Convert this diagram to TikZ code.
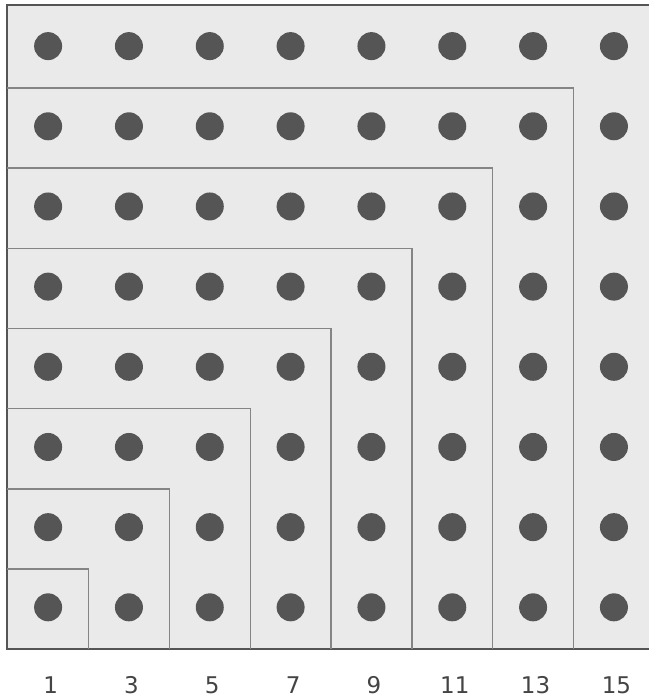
\documentclass[tikz,border=0pt]{standalone}
\usepackage{fontspec}
\setsansfont{DejaVu Sans}
\definecolor{boxfill}{HTML}{EAEAEA}
\definecolor{framegray}{HTML}{555555}
\definecolor{linegray}{HTML}{858585}
\definecolor{dotgray}{HTML}{555555}
\definecolor{labelgray}{HTML}{444444}
\tikzset{
  frame/.style={draw=framegray, fill=boxfill, line width=2.2pt},
  gnomon/.style={draw=linegray, line width=1.4pt},
  dot/.style={circle, fill=dotgray, inner sep=0pt, minimum size=28pt},
  lab/.style={font=\sffamily\fontsize{23}{23}\selectfont, text=labelgray, inner sep=0pt}
}
\begin{document}
\begin{tikzpicture}[x=1pt,y=-1pt]
\useasboundingbox (0,0) rectangle (648,700);
\fill[white] (0,0) rectangle (648,700);
\def\cx{80.83}
\def\cy{80.17}
\def\xo{7.2}
\def\yb{649.2}
\draw[frame] (\xo,\yb) rectangle (\xo+8*\cx+2,5.2);
\foreach \k in {1,...,7}{
  \draw[gnomon] (\xo,\yb-\k*\cy) -- (\xo+\k*\cx+0.6,\yb-\k*\cy) -- (\xo+\k*\cx+0.6,\yb);
}
\foreach \i in {1,...,8}{
  \foreach \j in {1,...,8}{
    \node[dot] (d\i\j) at (\xo+\i*\cx-0.5*\cx+0.5,\yb-\j*\cy+0.5*\cy-1.8) {};
  }
}
\foreach \i [evaluate=\i as \n using int(2*\i-1)] in {1,...,8}{
  \node[lab] (l\i) at (\xo+\i*\cx-0.5*\cx+3,685) {\n};
}
\end{tikzpicture}
\end{document}
